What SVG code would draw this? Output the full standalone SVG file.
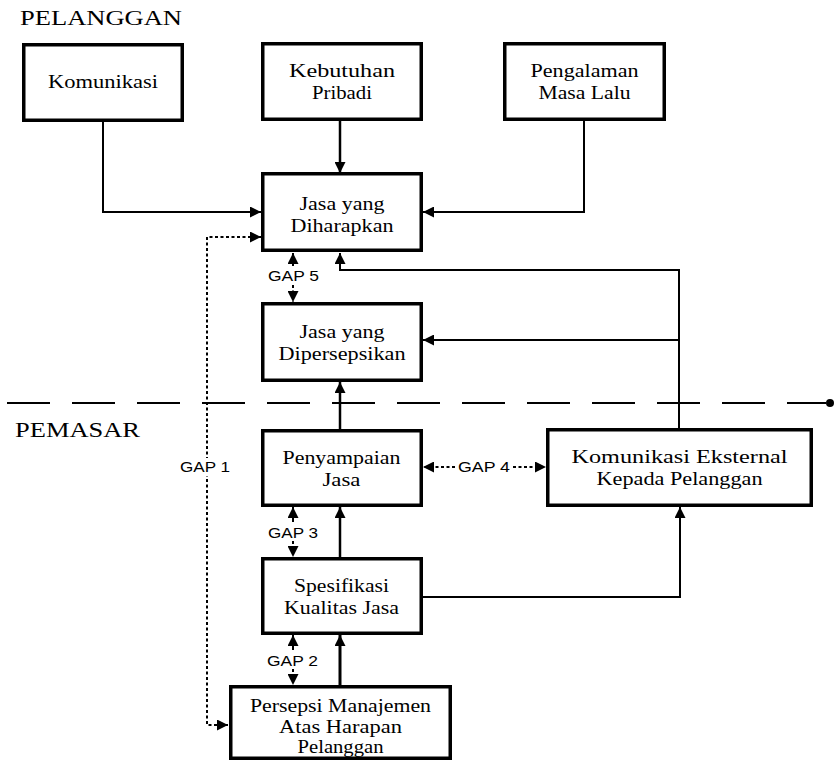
<svg xmlns="http://www.w3.org/2000/svg" width="835" height="762" viewBox="0 0 835 762">
<style>
.box{fill:#fff;stroke:#000;stroke-width:3.5}
.t{font-family:"Liberation Serif","Times New Roman",serif;font-size:19.5px;fill:#000;text-anchor:middle}
.h{font-family:"Liberation Serif","Times New Roman",serif;font-size:20.5px;fill:#000}
.g{font-family:"Liberation Sans",Arial,sans-serif;font-size:14px;fill:#000;text-anchor:middle}
.c{fill:none;stroke:#000;stroke-width:2}
.ck{fill:none;stroke:#000;stroke-width:2.5}
.d{fill:none;stroke:#000;stroke-width:2;stroke-dasharray:3 2.5}
.dash{fill:none;stroke:#000;stroke-width:1.8;stroke-dasharray:43 22}
</style>
<defs>
<marker id="arr" viewBox="0 0 10 10" refX="10" refY="5" markerWidth="12" markerHeight="11" markerUnits="userSpaceOnUse" orient="auto-start-reverse">
<path d="M0,0 L10,5 L0,10 z" fill="#000"/>
</marker>
</defs>
<rect width="835" height="762" fill="#fff"/>
<text class="h" x="20" y="25" textLength="162" lengthAdjust="spacingAndGlyphs">PELANGGAN</text>
<text class="h" x="15" y="437" textLength="125" lengthAdjust="spacingAndGlyphs">PEMASAR</text>
<g id="separator">
<line class="dash" x1="7" y1="403" x2="826" y2="403"/>
<circle cx="830" cy="403" r="4" fill="#000"/>
</g>
<g id="connectors">
<path class="c" d="M103,122 V212 H261" marker-end="url(#arr)"/>
<path class="ck" d="M340,121 V173" marker-end="url(#arr)"/>
<path class="c" d="M584,121 V212 H423" marker-end="url(#arr)"/>
<path class="d" d="M228,725 H207 V237 H261" marker-start="url(#arr)" marker-end="url(#arr)"/>
<rect x="179" y="458" width="53" height="18" fill="#fff"/>
<text class="g" x="205" y="472" textLength="50" lengthAdjust="spacingAndGlyphs">GAP 1</text>
<path class="c" d="M293,266 V253" marker-end="url(#arr)"/>
<path class="d" d="M293,285 V302" marker-end="url(#arr)"/>
<text class="g" x="293.5" y="281" textLength="51" lengthAdjust="spacingAndGlyphs">GAP 5</text>
<path class="c" d="M679,428 V270 H340 V253" marker-end="url(#arr)"/>
<path class="c" d="M679,340 H423" marker-end="url(#arr)"/>
<path class="ck" d="M340,429 V382" marker-end="url(#arr)"/>
<path class="d" d="M455,467 H423" marker-end="url(#arr)"/>
<path class="d" d="M513,467 H546" marker-end="url(#arr)"/>
<text class="g" x="484" y="472" textLength="52" lengthAdjust="spacingAndGlyphs">GAP 4</text>
<path class="c" d="M293,522 V507" marker-end="url(#arr)"/>
<path class="d" d="M293,541 V557" marker-end="url(#arr)"/>
<text class="g" x="293" y="538" textLength="50" lengthAdjust="spacingAndGlyphs">GAP 3</text>
<path class="ck" d="M340,557 V507" marker-end="url(#arr)"/>
<path class="c" d="M423,597 H680 V507" marker-end="url(#arr)"/>
<path class="c" d="M293,650 V635" marker-end="url(#arr)"/>
<path class="d" d="M293,669 V685" marker-end="url(#arr)"/>
<text class="g" x="292.5" y="666" textLength="51" lengthAdjust="spacingAndGlyphs">GAP 2</text>
<path class="ck" style="stroke-width:3" d="M340,685 V635" marker-end="url(#arr)"/>
</g>
<g id="komunikasi">
<rect class="box" x="23.75" y="44.75" width="158.5" height="75.5"/>
<text class="t" x="103" y="88" textLength="110" lengthAdjust="spacingAndGlyphs">Komunikasi</text>
</g>
<g id="kebutuhan">
<rect class="box" x="262.75" y="43.75" width="158.5" height="75.5"/>
<text class="t" x="342" y="76.5" textLength="106" lengthAdjust="spacingAndGlyphs">Kebutuhan</text>
<text class="t" x="342" y="98.5" textLength="60" lengthAdjust="spacingAndGlyphs">Pribadi</text>
</g>
<g id="pengalaman">
<rect class="box" x="504.75" y="43.75" width="159.5" height="75.5"/>
<text class="t" x="584.5" y="76.5" textLength="108" lengthAdjust="spacingAndGlyphs">Pengalaman</text>
<text class="t" x="584.5" y="98.5" textLength="92" lengthAdjust="spacingAndGlyphs">Masa Lalu</text>
</g>
<g id="jasa-diharapkan">
<rect class="box" x="262.75" y="173.75" width="158.5" height="76.5"/>
<text class="t" x="342" y="210" textLength="85" lengthAdjust="spacingAndGlyphs">Jasa yang</text>
<text class="t" x="342" y="232" textLength="103" lengthAdjust="spacingAndGlyphs">Diharapkan</text>
</g>
<g id="jasa-dipersepsikan">
<rect class="box" x="262.75" y="303.75" width="158.5" height="76.5"/>
<text class="t" x="342" y="338" textLength="85" lengthAdjust="spacingAndGlyphs">Jasa yang</text>
<text class="t" x="342" y="360" textLength="127" lengthAdjust="spacingAndGlyphs">Dipersepsikan</text>
</g>
<g id="penyampaian">
<rect class="box" x="262.75" y="430.75" width="158.5" height="74.5"/>
<text class="t" x="341.5" y="464" textLength="118" lengthAdjust="spacingAndGlyphs">Penyampaian</text>
<text class="t" x="341.5" y="486" textLength="38" lengthAdjust="spacingAndGlyphs">Jasa</text>
</g>
<g id="komunikasi-eksternal">
<rect class="box" x="547.75" y="429.75" width="263.5" height="75.5"/>
<text class="t" x="679.5" y="463" textLength="216" lengthAdjust="spacingAndGlyphs">Komunikasi Eksternal</text>
<text class="t" x="679.5" y="485" textLength="166" lengthAdjust="spacingAndGlyphs">Kepada Pelanggan</text>
</g>
<g id="spesifikasi">
<rect class="box" x="262.75" y="558.75" width="158.5" height="74.5"/>
<text class="t" x="341.5" y="592" textLength="95" lengthAdjust="spacingAndGlyphs">Spesifikasi</text>
<text class="t" x="341.5" y="614" textLength="115" lengthAdjust="spacingAndGlyphs">Kualitas Jasa</text>
</g>
<g id="persepsi">
<rect class="box" x="230.75" y="686.75" width="219.5" height="71.5"/>
<text class="t" x="340.5" y="712" textLength="181" lengthAdjust="spacingAndGlyphs">Persepsi Manajemen</text>
<text class="t" x="340.5" y="733" textLength="123" lengthAdjust="spacingAndGlyphs">Atas Harapan</text>
<text class="t" x="340.5" y="753" textLength="86" lengthAdjust="spacingAndGlyphs">Pelanggan</text>
</g>
</svg>
